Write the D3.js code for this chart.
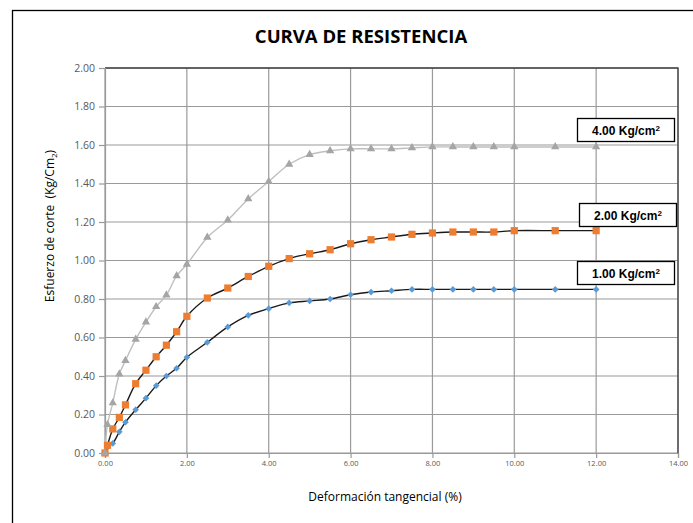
<!DOCTYPE html>
<html>
<head>
<meta charset="utf-8">
<script src="https://cdn.jsdelivr.net/npm/d3@7"></script>
<style>
    body { margin: 0; background: #fff; }
    svg { display: block; }
    .tick text { fill: #595959; }
</style>
</head>
<body>
<div id="plot"></div>
<script>
var width = 693;
var height = 523;

// Plot area box
var left = 105;
var top_ = 68;
var right = 678;
var bottom = 453;

// Data
var deformacion = [0, 0.06, 0.19, 0.35, 0.5, 0.75, 1, 1.25, 1.5, 1.75, 2, 2.5, 3, 3.5, 4, 4.5,
    5, 5.5, 6, 6.5, 7, 7.5, 8, 8.5, 9, 9.5, 10, 11, 12];
var esfuerzo1 = [0, 0.03, 0.05, 0.11, 0.16, 0.225, 0.285, 0.35, 0.40, 0.44, 0.497, 0.575, 0.655, 0.715,
    0.75, 0.78, 0.79, 0.80, 0.822, 0.836, 0.843, 0.85, 0.85, 0.85, 0.85, 0.85, 0.85, 0.85, 0.85];
var esfuerzo2 = [0, 0.04, 0.125, 0.185, 0.25, 0.36, 0.43, 0.50, 0.56, 0.63, 0.71, 0.805, 0.857, 0.917,
    0.97, 1.01, 1.035, 1.056, 1.087, 1.108, 1.122, 1.136, 1.143, 1.148, 1.148, 1.148, 1.155, 1.155, 1.155];
var esfuerzo4 = [0, 0.147, 0.26, 0.41, 0.48, 0.59, 0.68, 0.76, 0.82, 0.92, 0.98, 1.12, 1.21, 1.32,
    1.41, 1.50, 1.55, 1.57, 1.58, 1.58, 1.58, 1.585, 1.59, 1.59, 1.59, 1.59, 1.59, 1.59, 1.59];
var labels = ["1.00 Kg/cm", "2.00 Kg/cm", "4.00 Kg/cm"];
var xTicks = [0, 2, 4, 6, 8, 10, 12, 14];
var yTicks = [0, 0.2, 0.4, 0.6, 0.8, 1.0, 1.2, 1.4, 1.6, 1.8, 2.0];

var series = [
    { name: labels[0], values: esfuerzo1, marker: "diamond", fill: "#5b9bd5", line: "#1a1a1a" },
    { name: labels[1], values: esfuerzo2, marker: "square", fill: "#ed7d31", line: "#1a1a1a" },
    { name: labels[2], values: esfuerzo4, marker: "triangle", fill: "#a5a5a5", line: "#bfbfbf" }
];

var svg = d3.select("#plot").append("svg")
    .attr("width", width)
    .attr("height", height);

// Outer chart frame (runs off the right and bottom edge)
svg.append("rect")
    .attr("x", 12.5).attr("y", 10.5)
    .attr("width", 720).attr("height", 600)
    .attr("fill", "none").attr("stroke", "#000").attr("stroke-width", 1.3);

var scaleX = d3.scaleLinear().domain([0, 14]).range([left, right]);
var scaleY = d3.scaleLinear().domain([0, 2]).range([bottom, top_]);

// Gridlines
svg.append("g").selectAll("line.gx").data(xTicks).enter().append("line")
    .attr("x1", function(d) { return scaleX(d); })
    .attr("x2", function(d) { return scaleX(d); })
    .attr("y1", top_).attr("y2", bottom)
    .attr("stroke", "#9a9a9a").attr("stroke-width", 1.2);
svg.append("g").selectAll("line.gy").data(yTicks).enter().append("line")
    .attr("y1", function(d) { return scaleY(d); })
    .attr("y2", function(d) { return scaleY(d); })
    .attr("x1", left).attr("x2", right)
    .attr("stroke", "#9a9a9a").attr("stroke-width", 1.2);

// Plot area border (top and right darker)
svg.append("path")
    .attr("d", "M" + left + "," + top_ + "L" + right + "," + top_ + "L" + right + "," + bottom)
    .attr("fill", "none").attr("stroke", "#404040").attr("stroke-width", 1.3);

// Axes
var yAxis = svg.append("g")
    .attr("transform", "translate(" + left + ",0)")
    .call(d3.axisLeft(scaleY).tickValues(yTicks).tickSize(6).tickPadding(4)
        .tickFormat(d3.format(".2f")));
yAxis.selectAll("text").style("font-family", "Open Sans").style("font-size", "10.5px");

var xAxis = svg.append("g")
    .attr("transform", "translate(0," + bottom + ")")
    .call(d3.axisBottom(scaleX).tickValues(xTicks).tickSize(5).tickPadding(3)
        .tickFormat(d3.format(".2f")));
xAxis.selectAll("text").style("font-family", "Open Sans").style("font-size", "7.5px");

svg.selectAll(".domain").attr("stroke", "#9a9a9a").attr("stroke-width", 1.2);
svg.selectAll(".tick line").attr("stroke", "#9a9a9a").attr("stroke-width", 1.2);

// Lines
var pathGenerator = d3.line()
    .x(function(d, i) { return scaleX(deformacion[i]); })
    .y(function(d) { return scaleY(d); })
    .curve(d3.curveCatmullRom.alpha(0.5));

series.forEach(function(s) {
    svg.append("path")
        .attr("d", pathGenerator(s.values))
        .attr("fill", "none")
        .attr("stroke", s.line)
        .attr("stroke-width", 1.4);
});

// Markers
var symbols = {
    "diamond": d3.symbol().type(d3.symbolDiamond2).size(28),
    "square": d3.symbol().type(d3.symbolSquare).size(52),
    "triangle": d3.symbol().type(d3.symbolTriangle).size(30)
};

series.forEach(function(s) {
    svg.append("g").selectAll("path").data(s.values).enter().append("path")
        .attr("d", symbols[s.marker])
        .attr("transform", function(d, i) {
            return "translate(" + scaleX(deformacion[i]) + "," + scaleY(d) + ")";
        })
        .attr("fill", s.fill);
});

// Label boxes
var boxes = [
    { label: labels[2], x: 577.5, y: 118.5 },
    { label: labels[1], x: 579.5, y: 203.5 },
    { label: labels[0], x: 577.5, y: 261.5 }
];
boxes.forEach(function(b) {
    svg.append("rect")
        .attr("x", b.x).attr("y", b.y)
        .attr("width", 97).attr("height", 23)
        .attr("fill", "#fff").attr("stroke", "#000").attr("stroke-width", 1.3);
    var t = svg.append("text")
        .attr("x", b.x + 48.5).attr("y", b.y + 16)
        .attr("text-anchor", "middle")
        .style("font-family", "Liberation Sans")
        .style("font-weight", "bold")
        .style("font-size", "12px")
        .attr("fill", "#000");
    t.append("tspan").text(b.label);
    t.append("tspan").attr("dy", -4).style("font-size", "8px").text("2");
});

// Title
svg.append("text")
    .attr("x", 361).attr("y", 43)
    .attr("text-anchor", "middle")
    .style("font-family", "Open Sans")
    .style("font-weight", "bold")
    .style("font-size", "18.5px")
    .attr("fill", "#000")
    .text("CURVA DE RESISTENCIA");

// Axis titles
svg.append("text")
    .attr("x", 385).attr("y", 501)
    .attr("text-anchor", "middle")
    .style("font-family", "Open Sans")
    .style("font-size", "12px")
    .attr("fill", "#000")
    .text("Deformación tangencial (%)");

var yTitle = svg.append("text")
    .attr("transform", "translate(54,226) rotate(-90)")
    .attr("text-anchor", "middle")
    .style("font-family", "Open Sans")
    .style("font-size", "12px")
    .style("white-space", "pre")
    .attr("fill", "#000");
yTitle.append("tspan").text("Esfuerzo de corte  (Kg/Cm");
yTitle.append("tspan").attr("dy", 3).style("font-size", "8px").text("2");
yTitle.append("tspan").attr("dy", -3).text(")");
</script>
</body>
</html>
